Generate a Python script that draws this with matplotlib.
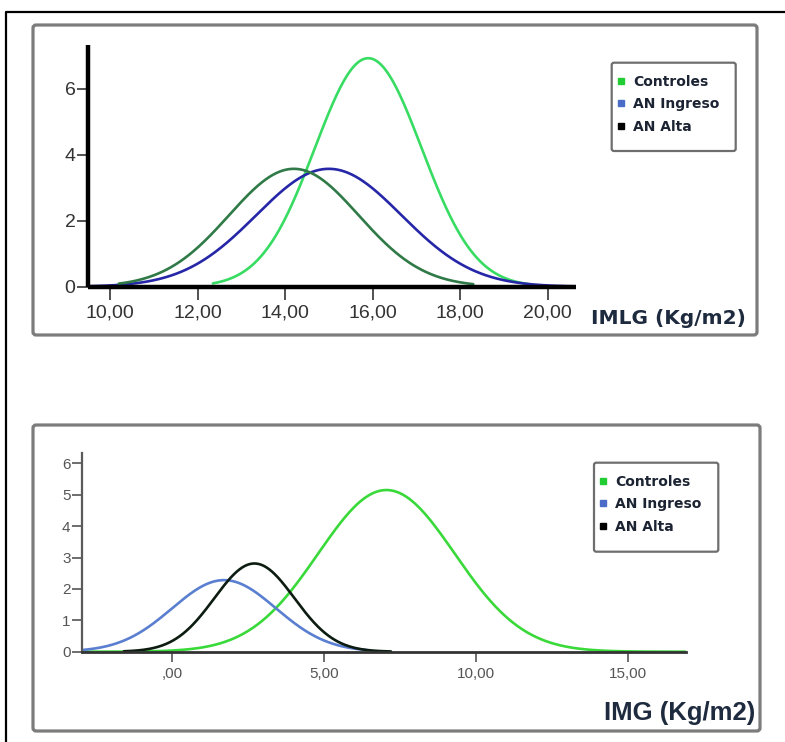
import numpy as np
import matplotlib
matplotlib.use("Agg")
import matplotlib.pyplot as plt
from matplotlib.lines import Line2D
from matplotlib.patches import FancyBboxPatch

W, H = 785, 742

groups = ["Controles", "AN Ingreso", "AN Alta"]

# fitted normal curves, IMLG panel
imlg_mean = [15.9, 15.0, 14.2]
imlg_sd = [1.22, 1.66, 1.48]
imlg_peak = [6.92, 3.57, 3.57]
imlg_from = [12.35, 9.5, 10.2]
imlg_to = [19.6, 20.64, 18.3]
imlg_colors = ["#38dc62", "#2626a8", "#2f7a47"]

# fitted normal curves, IMG panel
img_mean = [7.05, 1.7, 2.7]
img_sd = [2.25, 1.71, 1.32]
img_peak = [5.15, 2.28, 2.81]
img_from = [-2.99, -2.99, -1.6]
img_to = [16.92, 6.4, 7.2]
img_colors = ["#3ad93a", "#5b7fd0", "#0c1c10"]

legend_colors = ["#22cc33", "#4a6cc8", "#000000"]

imlg_xticks = [10, 12, 14, 16, 18, 20]
imlg_xlabels = ["10,00", "12,00", "14,00", "16,00", "18,00", "20,00"]
imlg_yticks = [0, 2, 4, 6]
img_xticks = [0, 5, 10, 15]
img_xlabels = [",00", "5,00", "10,00", "15,00"]
img_yticks = [0, 1, 2, 3, 4, 5, 6]


def fx(px):
    return px / W


def fy(py):
    return 1 - py / H


def axes_at(x0, y0, x1, y1):
    return fig.add_axes([fx(x0), fy(y1), (x1 - x0) / W, (y1 - y0) / H])


def normal_curve(ax, m, s, peak, a, b, color):
    x = np.linspace(a, b, 400)
    y = peak * np.exp(-0.5 * ((x - m) / s) ** 2)
    ax.plot(x, y, color=color, lw=1.9, solid_capstyle="round")


def legend_box(x0, y0, x1, y1):
    fig.add_artist(FancyBboxPatch((fx(x0), fy(y1)), (x1 - x0) / W, (y1 - y0) / H,
                                  boxstyle="round,pad=0,rounding_size=0.003",
                                  transform=fig.transFigure, fc="white",
                                  ec="#6e6e6e", lw=1.6, zorder=5))
    handles = [Line2D([], [], marker="s", ls="none", color=c, markersize=4.5)
               for c in legend_colors]
    leg = fig.legend(handles, groups, loc="upper left",
                     bbox_to_anchor=(fx(x0 + 4), fy(y0 + 12)),
                     frameon=False,
                     handlelength=0.7, handletextpad=0.55, labelspacing=0.62,
                     borderpad=0, borderaxespad=0,
                     prop={"family": "DejaVu Sans", "weight": "bold", "size": 10})
    for t in leg.get_texts():
        t.set_color("#1c2433")
    leg.set_zorder(7)


fig = plt.figure(figsize=(W / 100, H / 100), dpi=100)

# outer frame and the two panel boxes
fig.add_artist(Line2D([fx(6), fx(6), fx(790)], [fy(745), fy(12), fy(12)],
                      transform=fig.transFigure, color="black", lw=1.6))
for (x0, y0, x1, y1) in [(33, 25, 757, 335), (33, 425, 760, 731)]:
    fig.add_artist(FancyBboxPatch((fx(x0), fy(y1)), (x1 - x0) / W, (y1 - y0) / H,
                                  boxstyle="round,pad=0,rounding_size=0.004",
                                  transform=fig.transFigure, fc="none",
                                  ec="#7c7c7c", lw=2.3))

# IMLG panel
ax1 = axes_at(88, 45, 575.7, 286.7)
ax1.set_facecolor("none")
for i in range(3):
    normal_curve(ax1, imlg_mean[i], imlg_sd[i], imlg_peak[i],
                 imlg_from[i], imlg_to[i], imlg_colors[i])
ax1.set_xlim(9.497, 20.64)
ax1.set_ylim(0, 7.32)
for side in ["top", "right"]:
    ax1.spines[side].set_visible(False)
for side in ["left", "bottom"]:
    ax1.spines[side].set_linewidth(3.2)
    ax1.spines[side].set_color("black")
    ax1.spines[side].set_capstyle("butt")
ax1.set_xticks(imlg_xticks, imlg_xlabels)
ax1.set_yticks(imlg_yticks)
ax1.tick_params(axis="x", length=9, width=1.2, color="#333333", pad=4,
                labelsize=14, labelcolor="#333333")
ax1.tick_params(axis="y", length=8, width=1.2, color="#333333", pad=1,
                labelsize=14, labelcolor="#333333")
for lab in ax1.get_xticklabels() + ax1.get_yticklabels():
    lab.set_family("Liberation Sans")
fig.text(fx(668), fy(319), "IMLG (Kg/m2)", ha="center", va="center",
         family="DejaVu Sans", weight="bold", size=14.5, color="#1e2a3e")
legend_box(611.7, 62.7, 735.7, 151)

# IMG panel
ax2 = axes_at(81.7, 453.3, 686, 651.7)
ax2.set_facecolor("none")
for i in range(3):
    normal_curve(ax2, img_mean[i], img_sd[i], img_peak[i],
                 img_from[i], img_to[i], img_colors[i])
ax2.set_xlim(-2.99, 16.92)
ax2.set_ylim(0, 6.32)
for side in ["top", "right"]:
    ax2.spines[side].set_visible(False)
ax2.spines["left"].set_linewidth(1.6)
ax2.spines["left"].set_color("#5a5a5a")
ax2.spines["bottom"].set_linewidth(2.0)
ax2.spines["bottom"].set_color("#333333")
ax2.set_xticks(img_xticks, img_xlabels)
ax2.set_yticks(img_yticks)
ax2.tick_params(axis="x", length=7, width=1.2, color="#555555", pad=4,
                labelsize=11, labelcolor="#555555")
ax2.tick_params(axis="y", length=7, width=1.2, color="#555555", pad=1,
                labelsize=11, labelcolor="#555555")
for lab in ax2.get_xticklabels() + ax2.get_yticklabels():
    lab.set_family("Liberation Sans")
fig.text(fx(680), fy(713), "IMG (Kg/m2)", ha="center", va="center",
         family="Liberation Sans", weight="bold", size=18.5, color="#1e2a3e")
legend_box(594, 462.7, 718.3, 551.7)

fig.savefig("out.png", dpi=100)
